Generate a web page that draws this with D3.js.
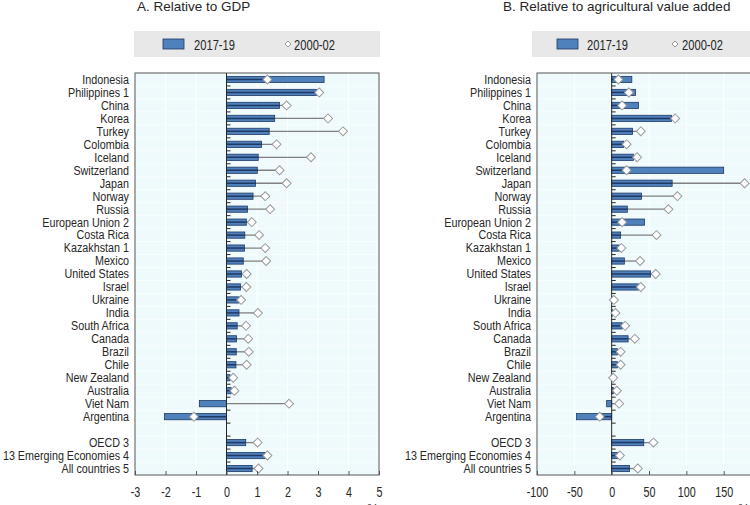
<html>
<head>
<meta charset="utf-8">
<script src="https://cdnjs.cloudflare.com/ajax/libs/d3/7.8.5/d3.min.js"></script>
<style>
  body { margin: 0; background: #fff; }
  text { font-family: "Liberation Sans", Arial, sans-serif; fill: #262626; }
</style>
</head>
<body>
<svg id="chart" width="750" height="505"></svg>
<script>
// categories: countries, then a gap, then the aggregates
const countries = ["Indonesia", "Philippines 1", "China", "Korea", "Turkey", "Colombia", "Iceland",
  "Switzerland", "Japan", "Norway", "Russia", "European Union 2", "Costa Rica", "Kazakhstan 1",
  "Mexico", "United States", "Israel", "Ukraine", "India", "South Africa", "Canada", "Brazil",
  "Chile", "New Zealand", "Australia", "Viet Nam", "Argentina"];
const aggregates = ["OECD 3", "13 Emerging Economies 4", "All countries 5"];

// A. Relative to GDP (%)
const gdp1719 = [3.2, 2.95, 1.74, 1.58, 1.40, 1.15, 1.04, 1.01, 0.95, 0.87, 0.69, 0.65, 0.60, 0.59,
  0.55, 0.49, 0.46, 0.41, 0.41, 0.35, 0.33, 0.32, 0.31, 0.11, 0.15, -0.89, -2.03, 0.63, 1.25, 0.84];
const gdp0002 = [1.34, 3.04, 1.97, 3.33, 3.82, 1.64, 2.77, 1.74, 1.97, 1.27, 1.43, 0.83, 1.07, 1.27,
  1.30, 0.66, 0.65, 0.48, 1.03, 0.64, 0.71, 0.73, 0.66, 0.22, 0.26, 2.05, -1.07, 1.02, 1.34, 1.05];

// B. Relative to agricultural value added (%)
const ava1719 = [27, 32, 36, 80, 28, 16, 29, 150, 81, 40, 21, 44, 12, 10, 17, 52, 36, 1, 1.3, 14,
  22, 7.6, 7.6, 0.5, 2.2, -6.7, -47, 43, 7.6, 24];
const ava0002 = [9, 23, 14, 85, 39, 20, 34, 20, 178, 88, 76, 14, 60, 13, 38, 59, 39, 3, 5, 18,
  31, 12, 12, 2, 7, 10, -16, 56, 11, 35];

const gdpTicks = [-3, -2, -1, 0, 1, 2, 3, 4, 5];
const avaTicks = [-100, -50, 0, 50, 100, 150];
const seriesNames = ["2017-19", "2000-02"];

const names = countries.concat(aggregates);
const slots = countries.concat(["__gap"], aggregates);

const svg = d3.select("#chart");
const plotTop = 73, plotBottom = 475;

const y = d3.scaleBand().domain(slots).range([plotTop, plotBottom]);
const barH = y.bandwidth() * 0.48;

// the original uses a narrow face: squeeze the glyphs horizontally
function narrow(sel, k) {
  sel.each(function () {
    const len = this.getComputedTextLength();
    d3.select(this).attr("textLength", len * k).attr("lengthAdjust", "spacingAndGlyphs");
  });
}

const panels = [
  { title: "A. Relative to GDP", titleX: 137, left: 135, right: 379, domain: [-3, 5], ticks: gdpTicks,
    bars: gdp1719, marks: gdp0002, legend: { x: 134, w: 246, sw: 29, t1: 60, d: 154, t2: 160 }, pctX: 367 },
  { title: "B. Relative to agricultural value added", titleX: 503, left: 537, right: 761, domain: [-100, 200], ticks: avaTicks,
    bars: ava1719, marks: ava0002, legend: { x: 532, w: 240, sw: 25, t1: 55, d: 143, t2: 150 }, pctX: 738 }
];

const diamond = d3.symbol(d3.symbolSquare, 40);

panels.forEach(p => {
  const x = d3.scaleLinear().domain(p.domain).range([p.left, p.right]);
  const g = svg.append("g");
  const rows = names.map((n, i) => ({ name: n, bar: p.bars[i], mark: p.marks[i] }));
  const cy = d => y(d.name) + y.bandwidth() / 2;

  // title
  g.append("text").attr("x", p.titleX).attr("y", 11)
    .style("font-size", "13.5px").text(p.title);

  // legend
  const lg = g.append("g").attr("transform", `translate(${p.legend.x},31)`);
  lg.append("rect").attr("width", p.legend.w).attr("height", 26).attr("fill", "#e8e8e8");
  lg.append("rect").attr("x", p.legend.sw).attr("y", 8).attr("width", 21).attr("height", 10)
    .attr("fill", "#4f81bd").attr("stroke", "#1f3864").attr("stroke-width", 0.8);
  lg.append("path").attr("d", d3.symbol(d3.symbolSquare, 18)())
    .attr("transform", `translate(${p.legend.d},13) rotate(45)`)
    .attr("fill", "#fff").attr("stroke", "#888").attr("stroke-width", 0.8);
  lg.selectAll(".lt").data(seriesNames).join("text")
    .attr("x", (d, i) => i ? p.legend.t2 : p.legend.t1).attr("y", 18.5)
    .style("font-size", "14.5px").text(d => d)
    .call(narrow, 0.77);

  // plot background + grid
  g.append("rect").attr("x", p.left).attr("y", plotTop).attr("width", p.right - p.left).attr("height", plotBottom - plotTop)
    .attr("fill", "#effafc");
  g.selectAll(".grid").data(p.ticks).join("line")
    .attr("x1", d => x(d)).attr("x2", d => x(d)).attr("y1", plotTop).attr("y2", plotBottom)
    .attr("stroke", "#ffffff").attr("stroke-width", 1);
  g.selectAll(".hgrid").data(slots.slice(1)).join("line")
    .attr("x1", p.left).attr("x2", p.right).attr("y1", d => y(d)).attr("y2", d => y(d))
    .attr("stroke", "#ffffff").attr("stroke-width", 0.6);

  // connecting line to the 2000-02 marker
  g.selectAll(".conn").data(rows).join("line")
    .attr("x1", x(0)).attr("x2", d => x(d.mark)).attr("y1", cy).attr("y2", cy)
    .attr("stroke", "#808080").attr("stroke-width", 1.3);

  // bars 2017-19
  g.selectAll(".bar").data(rows).join("rect")
    .attr("x", d => x(Math.min(0, d.bar))).attr("width", d => Math.abs(x(d.bar) - x(0)))
    .attr("y", d => cy(d) - barH / 2).attr("height", barH)
    .attr("fill", "#4f81bd").attr("stroke", "#1f3864").attr("stroke-width", 0.8);

  // dark part of the line inside the bar
  const overlap = d => (d.bar * d.mark > 0) ? Math.sign(d.bar) * Math.min(Math.abs(d.bar), Math.abs(d.mark)) : 0;
  g.selectAll(".inner").data(rows.filter(d => overlap(d) !== 0)).join("line")
    .attr("x1", x(0)).attr("x2", d => x(overlap(d))).attr("y1", cy).attr("y2", cy)
    .attr("stroke", "#1f3864").attr("stroke-width", 1.5);

  // zero line with row ticks
  g.append("line").attr("x1", x(0)).attr("x2", x(0)).attr("y1", plotTop).attr("y2", plotBottom)
    .attr("stroke", "#262626").attr("stroke-width", 1);
  g.selectAll(".ztick").data(slots.slice(1)).join("line")
    .attr("x1", x(0)).attr("x2", x(0) + 4).attr("y1", d => y(d)).attr("y2", d => y(d))
    .attr("stroke", "#262626").attr("stroke-width", 1);

  // 2000-02 markers
  g.selectAll(".mark").data(rows).join("path")
    .attr("d", diamond())
    .attr("transform", d => `translate(${x(d.mark)},${cy(d)}) rotate(45)`)
    .attr("fill", "#fff").attr("stroke", "#9a9a9a").attr("stroke-width", 1);

  // frame
  g.append("rect").attr("x", p.left).attr("y", plotTop).attr("width", p.right - p.left).attr("height", plotBottom - plotTop)
    .attr("fill", "none").attr("stroke", "#555").attr("stroke-width", 1);

  // x axis
  const ax = g.append("g").attr("transform", `translate(0,${plotBottom})`)
    .call(d3.axisBottom(x).tickValues(p.ticks).tickFormat(d => String(d)).tickSize(-4).tickPadding(12));
  ax.select(".domain").remove();
  ax.selectAll("line").attr("stroke", "#555");
  ax.selectAll("text").style("font-size", "14px").attr("font-family", null).attr("fill", "#262626")
    .call(narrow, 0.77);
  g.append("text").attr("x", p.pctX).attr("y", 513).style("font-size", "13px").text("%");

  // category labels
  g.selectAll(".lab").data(rows).join("text")
    .attr("x", p.left - 6).attr("y", cy).attr("dy", "0.35em").attr("text-anchor", "end")
    .style("font-size", "12.5px").text(d => d.name)
    .call(narrow, 0.86);
});
</script>
</body>
</html>
